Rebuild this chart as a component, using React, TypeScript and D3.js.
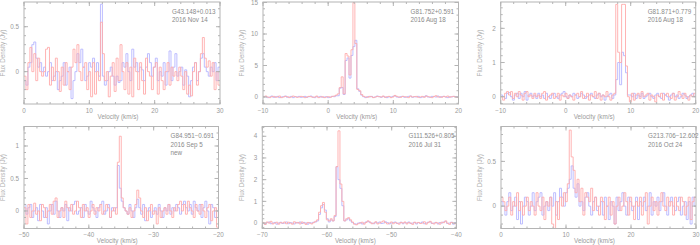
import * as d3 from 'd3';

// channel width (km/s)
const DV = 0.3;

// G43.148+0.013, 2016 Nov 14, 0..30 km/s
const blue1 = [
  -0.1, -0.15, 0.05, 0.1, 0.3, 0.33, 0.15, 0.05, 0.1, 0.0,
  0.05, -0.05, 0.0, 0.1, -0.1, -0.05, 0.0, -0.2, -0.1, -0.05,
  0.1, -0.15, 0.0, 0.05, -0.3, -0.1, 0.0, 0.2, 0.1, 0.25,
  0.05, -0.1, -0.05, 0.1, 0.05, 0.15, 0.0, 0.1, -0.05, 0.75,
  -0.05, -0.15, -0.1, 0.0, 0.05, -0.05, -0.15, -0.05, -0.12, -0.1,
  0.1, 0.05, 0.2, 0.0, -0.1, 0.25, 0.05, 0.1, 0.0, 0.05,
  0.02, -0.1, 0.05, 0.2, 0.1, -0.05, 0.05, 0.15, -0.1, 0.0,
  -0.05, 0.1, -0.15, 0.0, 0.23, -0.1, 0.05, 0.2, -0.05, 0.0,
  0.05, -0.15, 0.02, -0.05, -0.28, -0.1, 0.05, 0.1, -0.1, 0.0,
  0.15, 0.2, 0.05, 0.0, -0.05, 0.05, 0.0, 0.1, -0.1, 0.05,
];
const red1 = [
  -0.05, -0.2, 0.1, 0.27, 0.0, 0.2, -0.1, 0.15, 0.0, -0.05,
  0.0, 0.25, 0.27, -0.15, 0.05, -0.1, 0.15, 0.0, -0.22, 0.05,
  -0.15, 0.1, 0.0, -0.2, 0.05, 0.25, 0.1, 0.3, 0.0, -0.1,
  0.05, 0.1, -0.2, 0.0, -0.28, 0.1, -0.25, 0.0, -0.1, 0.55,
  0.2, -0.1, 0.0, -0.28, -0.05, 0.1, -0.22, 0.15, -0.1, 0.3,
  0.0, -0.2, 0.1, -0.25, 0.05, -0.28, 0.15, 0.0, -0.2, 0.1,
  -0.1, -0.25, 0.15, 0.0, -0.05, -0.2, 0.05, 0.1, -0.25, 0.05,
  -0.1, -0.2, 0.0, 0.1, -0.15, 0.05, -0.05, 0.0, -0.1, 0.05,
  -0.05, -0.2, 0.0, -0.25, -0.15, -0.27, 0.0, 0.1, -0.15, 0.0,
  0.2, 0.38, 0.15, 0.05, 0.12, -0.05, 0.1, -0.2, 0.0, -0.15,
];

// G81.752+0.591, 2016 Aug 18, -10..20 km/s
const blue2 = [
  0.1, 0.05, -0.1, 0.0, 0.15, -0.05, 0.05, 0.1, -0.1, 0.0,
  0.05, 0.15, -0.05, 0.0, 0.1, -0.1, 0.05, 0.0, 0.1, -0.05,
  0.0, 0.1, -0.05, 0.05, 0.15, 0.0, -0.1, 0.05, 0.0, 0.1,
  -0.05, 0.0, 0.05, -0.1, 0.0, 0.1, 0.05, 0.2,
  0.2, 1.4, 1.5, 0.4, 5.8, 6.2, 3.0, 6.6, 8.0, 9.0, 1.3, 0.9, 0.3, 0.05,
  -0.1, 0.05, 0.0, 0.1, -0.05, 0.0, 0.15, 0.05,
  -0.05, 0.1, 0.0, -0.1, 0.05, 0.0, 0.1, 0.2, 0.0, -0.05,
  0.05, 0.1, -0.05, 0.0, 0.1, 0.15, -0.05, 0.05, 0.0, 0.1,
  -0.1, 0.0, 0.05, 0.2, 0.0, -0.05, 0.1, 0.05, 0.0, 0.15,
  -0.05, 0.05, 0.1, 0.0, -0.1, 0.05, 0.0, 0.1, 0.05, 0.0,
];
const red2 = [
  0.05, 0.15, 0.0, -0.1, 0.05, 0.1, -0.05, 0.0, 0.15, -0.1,
  0.0, 0.1, 0.05, -0.1, 0.0, 0.15, 0.05, -0.05, 0.0, 0.1,
  0.05, -0.1, 0.0, 0.1, 0.05, -0.05, 0.0, 0.15, -0.1, 0.0,
  0.05, -0.1, 0.0, 0.05, -0.05, 0.1, 0.15, 0.3,
  0.5, 1.5, 3.2, 0.5, 6.9, 6.5, 3.5, 7.5, 15.0, 8.5, 1.2, 1.0, 0.4, 0.1,
  0.0, -0.05, 0.1, 0.05, -0.1, 0.0, 0.1, 0.05,
  0.0, 0.15, -0.05, 0.05, 0.1, -0.1, 0.0, 0.25, 0.1, 0.0,
  -0.05, 0.1, 0.05, 0.0, -0.1, 0.15, 0.0, 0.05, 0.1, -0.05,
  0.0, 0.1, -0.05, 0.15, 0.05, 0.0, -0.1, 0.1, 0.2, 0.0,
  0.05, -0.05, 0.1, 0.0, 0.15, -0.05, 0.05, 0.1, 0.0, -0.05,
];

// G81.871+0.779, 2016 Aug 18, -10..20 km/s
const blue3 = [
  0.05, 0.0, -0.05, 0.1, 0.12, 0.0, -0.1, 0.05, 0.1, -0.05,
  0.1, 0.0, 0.15, -0.1, 0.05, 0.1, 0.0, 0.05, -0.05, 0.1,
  0.0, 0.05, -0.05, 0.1, 0.0, -0.05, 0.05, 0.1, 0.0, -0.05,
  0.05, 0.1, 0.15, 0.0, -0.05, 0.05, 0.0, 0.1, 0.05, -0.05,
  0.0, 0.1, 0.05, -0.05, 0.0, 0.05, 0.1, 0.0, -0.05, 0.05,
  0.1, 0.0, 0.05, -0.1, 0.0, 0.05, 0.1, -0.05,
  0.05, 0.5, 1.0, 0.35, 1.3, 1.2, 0.7, 0.05,
  0.05, 0.0, 0.1, -0.05,
  0.05, 0.0, 0.1, -0.05, 0.0, 0.05, 0.1, 0.0, -0.05, 0.05,
  0.1, 0.0, -0.05, 0.1, 0.05, 0.0, -0.1, 0.05, 0.1, 0.0,
  0.05, -0.05, 0.0, 0.1, 0.05, -0.05, 0.0, 0.05, 0.1, 0.0,
];
const red3 = [
  0.0, -0.1, 0.1, 0.15, 0.05, 0.15, -0.05, 0.1, 0.0, 0.15,
  0.05, -0.1, 0.1, 0.15, 0.0, 0.05, -0.05, 0.1, 0.0, 0.05,
  -0.05, 0.1, 0.15, -0.1, 0.0, 0.05, 0.1, -0.05, 0.0, 0.1,
  -0.1, 0.05, 0.0, 0.1, -0.05, 0.05, 0.0, -0.1, 0.05, 0.1,
  0.0, 0.15, -0.05, 0.0, 0.1, -0.1, 0.05, 0.0, 0.15, -0.05,
  0.1, -0.1, 0.05, 0.0, 0.15, 0.0, -0.1, 0.05,
  0.1, 2.7, 1.3, 1.0, 2.7, 2.7, 0.9, 0.0,
  -0.15, 0.1, -0.1, 0.05,
  0.1, -0.05, 0.15, 0.0, 0.05, 0.1, -0.1, 0.05, 0.0, -0.15,
  0.05, 0.0, 0.1, -0.1, 0.05, 0.1, 0.0, -0.05, 0.1, -0.1,
  0.0, 0.15, 0.05, -0.05, 0.1, 0.0, -0.1, 0.05, 0.0, 0.1,
];

// G84.951-0.691, 2016 Sep 5, -50..-20 km/s
const blue4 = [
  0.1, -0.05, 0.05, 0.1, -0.1, 0.0, 0.05, -0.15, 0.1, 0.0,
  -0.1, 0.05, -0.2, 0.0, 0.1, -0.05, 0.15, 0.0, -0.1, 0.05,
  0.0, 0.1, -0.15, 0.05, 0.0, 0.1, 0.15, -0.05, 0.0, 0.05,
  -0.1, 0.1, 0.0, -0.05, 0.15, 0.05, 0.0, -0.1, 0.05, 0.1,
  0.15, -0.05, 0.0, 0.1, -0.1, 0.05, 0.0, 0.05,
  0.7, 0.35, 0.15,
  0.05, 0.0, -0.05, 0.1, 0.0, -0.1, 0.05,
  0.18, 0.05,
  -0.05, 0.1, -0.15, 0.0, 0.05, -0.1, 0.0, 0.05, -0.05, 0.1,
  0.0, -0.1, 0.05, 0.0, 0.1, -0.05, 0.05, 0.0, 0.1, 0.05,
  -0.05, 0.1, 0.15, 0.05, 0.0, 0.1, -0.05, 0.15, 0.05, 0.0,
  0.1, -0.1, 0.05, 0.15, 0.0, -0.2, 0.1, 0.05, -0.1, 0.0,
];
const red4 = [
  0.05, -0.2, 0.1, -0.1, 0.0, 0.12, -0.05, 0.0, -0.15, 0.1,
  0.05, -0.1, 0.0, 0.1, -0.05, 0.15, 0.2, -0.1, 0.0, 0.05,
  -0.1, 0.15, 0.05, 0.0, 0.1, -0.05, 0.0, 0.15, 0.05, -0.1,
  0.1, 0.0, 0.05, -0.1, 0.0, 0.1, -0.05, 0.05, 0.0, 0.1,
  -0.05, 0.0, 0.1, 0.05, -0.1, 0.0, 0.05, -0.05,
  0.75, 1.15, 0.2,
  0.05, 0.0, -0.05, 0.05, -0.1, 0.0, 0.1,
  0.32, 0.2,
  0.0, -0.1, 0.05, -0.15, 0.0, 0.1, -0.05, 0.0, -0.2, 0.05,
  -0.1, 0.0, 0.05, -0.05, 0.1, 0.0, -0.1, 0.05, 0.0, 0.1,
  0.15, 0.0, 0.1, -0.05, 0.15, 0.05, 0.0, -0.1, 0.1, 0.0,
  -0.05, 0.1, 0.0, -0.1, 0.05, 0.1, -0.15, 0.0, 0.05, -0.25,
];

// G111.526+0.805, 2016 Jul 31, -70..-40 km/s
const blue5 = [
  0.0, -0.05, 0.02, 0.05, -0.03, 0.0, 0.03, -0.05, 0.0, 0.04,
  -0.02, 0.0, 0.05, -0.03, 0.02, 0.0, -0.04, 0.03, 0.0, 0.05,
  -0.02, 0.03, 0.0, -0.05, 0.02, 0.0, 0.04, 0.05,
  0.1, 0.4, 0.7, 0.85, 0.6, 0.2, 0.05, 0.15, 0.1,
  0.3, 2.6, 2.0, 1.6, 0.8, 0.1, 0.15, 0.2, 0.1,
  0.02, -0.03, -0.05, 0.0,
  0.02, -0.04, 0.0, 0.05, 0.08, 0.02, 0.0, -0.03, 0.04, 0.0,
  0.05, -0.02, 0.0, 0.06, 0.02, -0.04, 0.0, 0.03, 0.05, -0.02,
  0.0, 0.04, -0.03, 0.02, 0.0, 0.05, -0.02, 0.0, 0.03, -0.04,
  0.02, 0.0, 0.05, -0.03, 0.0, 0.04, 0.06, -0.02, 0.0, 0.03,
  -0.04, 0.02, 0.0, 0.05, 0.08, -0.02, 0.0, 0.04, -0.05, 0.02,
];
const red5 = [
  0.03, -0.06, 0.05, 0.0, 0.08, -0.04, 0.0, 0.04, -0.05, 0.02,
  0.0, 0.05, -0.03, 0.04, 0.0, -0.05, 0.06, 0.0, 0.03, -0.04,
  0.05, 0.0, -0.06, 0.03, 0.0, -0.04, 0.02, 0.08,
  0.15, 0.5, 0.8, 0.95, 0.5, 0.15, 0.1, 0.2, 0.1,
  0.35, 2.6, 4.25, 1.8, 1.0, 0.1, 0.2, 0.25, 0.15,
  0.05, -0.05, -0.08, -0.03,
  0.0, 0.04, -0.05, 0.03, 0.1, 0.05, -0.03, 0.0, 0.06, -0.04,
  0.0, 0.05, 0.1, 0.02, -0.04, 0.0, 0.05, -0.03, 0.02, 0.0,
  -0.05, 0.03, 0.0, 0.05, -0.04, 0.02, 0.0, -0.06, 0.04, 0.0,
  0.03, -0.02, 0.0, 0.06, -0.05, 0.02, 0.08, 0.0, -0.04, 0.03,
  0.0, -0.05, 0.04, 0.02, 0.1, 0.0, -0.06, 0.03, 0.0, -0.03,
];

// G213.706-12.602, 2016 Oct 24, 0..30 km/s
const blue6 = [
  0.05, 0.0, -0.1, 0.05, 0.15, -0.05, 0.0, 0.1, -0.15, 0.05,
  -0.2, 0.0, 0.1, 0.05, -0.1, 0.0, 0.15, -0.05, 0.05, 0.1,
  0.15, -0.1, 0.0, 0.05, -0.05, 0.1, 0.0, 0.15, -0.1, 0.05,
  0.2, 0.1, 0.0, 0.15,
  0.2, 0.3, 0.45, 0.2, 0.1, 0.25, 0.0,
  0.05, -0.05, 0.1, 0.15, 0.0, -0.1, 0.05, 0.1, -0.05,
  0.0, 0.05, -0.1, 0.1, 0.0, -0.15, 0.05, 0.0, -0.2, 0.1,
  -0.05, 0.05, 0.15, 0.0, -0.1, 0.1, 0.05, -0.05, 0.0, 0.1,
  -0.15, 0.05, 0.0, 0.1, -0.05, 0.0, 0.15, -0.1, 0.05, 0.0,
  0.1, -0.05, 0.05, 0.15, 0.0, -0.1, 0.05, 0.1, 0.0, -0.05,
  0.05, 0.1, -0.1, 0.0, 0.05, -0.15, 0.05, -0.2, 0.1, 0.0,
];
const red6 = [
  0.1, 0.05, -0.05, 0.0, 0.1, -0.1, 0.05, 0.0, 0.15, -0.05,
  0.05, -0.1, 0.0, 0.1, -0.05, 0.05, 0.0, -0.1, 0.15, 0.0,
  -0.05, 0.1, -0.15, 0.05, 0.0, 0.1, -0.2, -0.25, 0.05, -0.15,
  0.1, 0.0, 0.15, 0.05,
  0.25, 0.85, 0.55, 0.4, 0.15, 0.3, 0.05,
  0.2, -0.1, 0.15, 0.1, 0.05, 0.2, -0.05, 0.1, 0.0,
  -0.1, 0.1, 0.05, -0.15, 0.0, 0.1, -0.1, 0.05, -0.2, 0.0,
  0.1, -0.05, 0.0, 0.15, 0.05, -0.1, 0.1, 0.0, -0.15, 0.05,
  0.0, 0.1, -0.1, 0.05, 0.15, -0.2, 0.0, 0.1, -0.05, 0.05,
  -0.1, 0.05, 0.15, 0.0, -0.05, 0.1, 0.0, 0.05, -0.1, 0.1,
  0.0, -0.05, 0.1, 0.05, -0.1, 0.0, 0.1, -0.15, 0.05, 0.1,
];

const labels = [
  ['G43.148+0.013', '2016 Nov 14'],
  ['G81.752+0.591', '2016 Aug 18'],
  ['G81.871+0.779', '2016 Aug 18'],
  ['G84.951\u22120.691', '2016 Sep 5', 'new'],
  ['G111.526+0.805', '2016 Jul 31'],
  ['G213.706\u221212.602', '2016 Oct 24'],
];
const velStart = [0, -10, -10, -50, -70, 0];
const xTicks = [
  [0, 10, 20, 30], [-10, 0, 10, 20], [-10, 0, 10, 20],
  [-50, -40, -30, -20], [-70, -60, -50, -40], [0, 10, 20, 30],
];
const yTicks = [[0, 0.5], [0, 5, 10, 15], [0, 1, 2], [0, 0.5, 1], [0, 1, 2, 3, 4], [0, 0.5]];
const yMinorStep = [0.1, 1, 0.2, 0.1, 0.2, 0.1];
const yDomains = [[-0.36, 0.775], [-1.11, 15.08], [-0.213, 2.77], [-0.27, 1.3], [-0.25, 4.45], [-0.25, 0.89]];
const blues = [blue1, blue2, blue3, blue4, blue5, blue6];
const reds = [red1, red2, red3, red4, red5, red6];

// layout: [left, right] per panel, rows [top, bottom]
const boxX = [[24, 220], [263, 458.5], [500.7, 695.7], [24, 218.5], [262.3, 456.4], [501, 696]];
const rowY = [[2, 104], [126.5, 228.5]];

const AXIS = '#b4b4b4';
const FONT = 'Liberation Sans, Arial, sans-serif';
const fmt = (v: number) => String(v).replace('-', '\u2212');

function Panel({ i }: { i: number }) {
  const [x0, x1] = boxX[i];
  const [y0, y1] = rowY[Math.floor(i / 3)];
  const vs = velStart[i];
  const x = d3.scaleLinear().domain([vs, vs + 30]).range([x0, x1]);
  const y = d3.scaleLinear().domain(yDomains[i]).range([y1, y0]);
  const line = d3.line<[number, number]>()
    .x(d => x(d[0]))
    .y(d => y(d[1]))
    .curve(d3.curveStepAfter);
  const pts = (vals: number[]): [number, number][] => {
    const p = vals.map((v, k) => [vs + k * DV, v] as [number, number]);
    p.push([vs + vals.length * DV, vals[vals.length - 1]]);
    return p;
  };
  const xMinor = d3.range(vs, vs + 30.01, 2);
  const [ya, yb] = yDomains[i];
  const st = yMinorStep[i];
  const yMinor = d3.range(Math.ceil(ya / st) * st, yb, st);
  const clipId = `clip${i}`;
  const cx = (x0 + x1) / 2;
  const cy = (y0 + y1) / 2;
  return (
    <g>
      <defs>
        <clipPath id={clipId}>
          <rect x={x0} y={y0} width={x1 - x0} height={y1 - y0} />
        </clipPath>
      </defs>
      <g clipPath={`url(#${clipId})`} fill="none" strokeWidth={0.9}>
        <path d={line(pts(blues[i])) ?? ''} stroke="#b6b6ff" />
        <path d={line(pts(reds[i])) ?? ''} stroke="#ffacac" />
      </g>
      <rect x={x0} y={y0} width={x1 - x0} height={y1 - y0} fill="none" stroke={AXIS} strokeWidth={1} />
      <g stroke={AXIS} strokeWidth={1}>
        {xTicks[i].map(t => (
          <g key={`xt${t}`}>
            <line x1={x(t)} x2={x(t)} y1={y1} y2={y1 - 4} />
            <line x1={x(t)} x2={x(t)} y1={y0} y2={y0 + 4} />
          </g>
        ))}
        {xMinor.map(t => (
          <g key={`xm${t}`}>
            <line x1={x(t)} x2={x(t)} y1={y1} y2={y1 - 2} />
            <line x1={x(t)} x2={x(t)} y1={y0} y2={y0 + 2} />
          </g>
        ))}
        {yTicks[i].map(t => (
          <g key={`yt${t}`}>
            <line x1={x0} x2={x0 + 4} y1={y(t)} y2={y(t)} />
            <line x1={x1} x2={x1 - 4} y1={y(t)} y2={y(t)} />
          </g>
        ))}
        {yMinor.map(t => (
          <g key={`ym${t}`}>
            <line x1={x0} x2={x0 + 2} y1={y(t)} y2={y(t)} />
            <line x1={x1} x2={x1 - 2} y1={y(t)} y2={y(t)} />
          </g>
        ))}
      </g>
      <g fontFamily={FONT} fontSize={6.3} fill="#9a9a9a">
        {xTicks[i].map(t => (
          <text key={`xl${t}`} x={x(t)} y={y1 + 8.5} textAnchor="middle">{fmt(t)}</text>
        ))}
        {yTicks[i].map(t => (
          <text key={`yl${t}`} x={x0 - 5} y={y(t)} dy="0.35em" textAnchor="end">{fmt(t)}</text>
        ))}
        <text x={cx - 4} y={y1 + 14.5} textAnchor="middle">Velocity (km/s)</text>
        <text
          transform={`translate(${x0 - 21},${cy}) rotate(-90)`}
          dy="0.35em"
          textAnchor="middle"
          fill="#b0b0b0"
        >Flux Density (Jy)</text>
        {labels[i].map((s, k) => (
          <text key={`lb${k}`} x={x1 - 48} y={y0 + 11.7 + k * 8.3} fill="#8a8a8a">{s}</text>
        ))}
      </g>
    </g>
  );
}

export default function App() {
  return (
    <svg width={700} height={245} style={{ position: 'absolute', left: 0, top: 0, background: '#fff' }}>
      {d3.range(6).map(i => <Panel key={i} i={i} />)}
    </svg>
  );
}
